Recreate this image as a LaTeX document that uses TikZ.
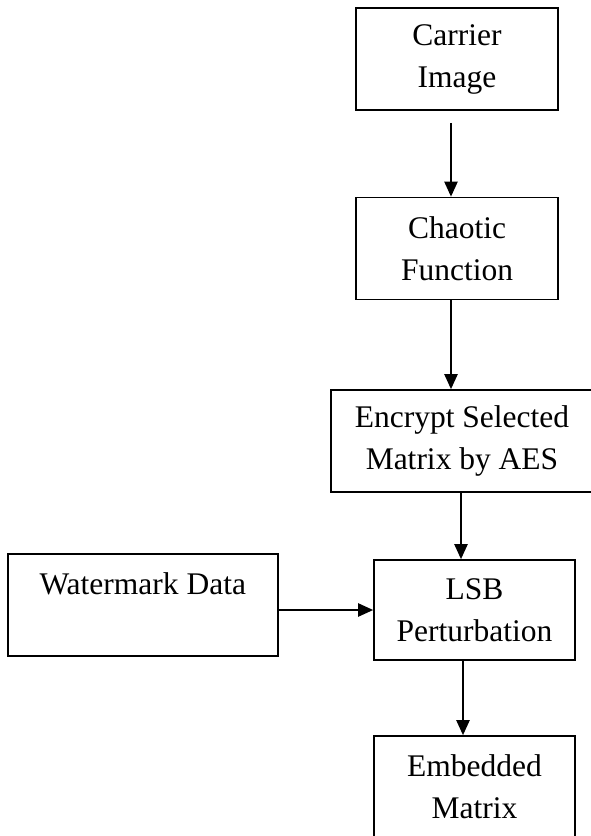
\documentclass[tikz,border=0pt]{standalone}
\usepackage{fontspec}
\setmainfont{Liberation Serif}
\usetikzlibrary{calc,arrows.meta}
\tikzset{block/.style={draw=black,fill=white,line width=1.6pt,align=center,inner sep=0pt,font=\fontsize{31.5}{42}\selectfont}}
\tikzset{flow/.style={-{Triangle[length=15pt,width=13pt]},line width=2.2pt}}
\def\wide{202pt}
\def\high{102pt}

\begin{document}
\begin{tikzpicture}[x=1pt,y=1pt]
\useasboundingbox (0,0) rectangle (590,-836);
% ブロックの配置
\node[block,minimum width=\wide,minimum height=\high] (carrier) at (457,-59) {Carrier\\Image};
\node[block,minimum width=\wide,minimum height=\high] (chaotic) at (457,-248.5) {Chaotic\\Function};
\node[block,minimum width=262pt,minimum height=\high] (encrypt) at (462,-441) {Encrypt Selected\\Matrix by AES};
\node[block,minimum width=201pt,minimum height=100pt] (lsb) at (474.5,-610) {LSB\\Perturbation};
\node[block,minimum width=270pt,minimum height=\high] (watermark) at (142.75,-605) {Watermark Data\\~};
\node[block,minimum width=201pt,minimum height=\high] (embedded) at (474.5,-787) {Embedded\\Matrix};
% 矢印の描画
\draw[flow] ($(carrier.south)+(-6,-12)$) -- ([xshift=-6pt]chaotic.north);
\draw[flow] ([xshift=-6pt]chaotic.south) -- ([xshift=-11pt]encrypt.north);
\draw[flow] ([xshift=-1pt]encrypt.south) -- ([xshift=-13.5pt]lsb.north);
\draw[flow] (watermark.east |- lsb.west) -- (lsb.west);
\draw[flow] ([xshift=-11.5pt]lsb.south) -- ([xshift=-11.5pt]embedded.north);
\end{tikzpicture}
\end{document}
